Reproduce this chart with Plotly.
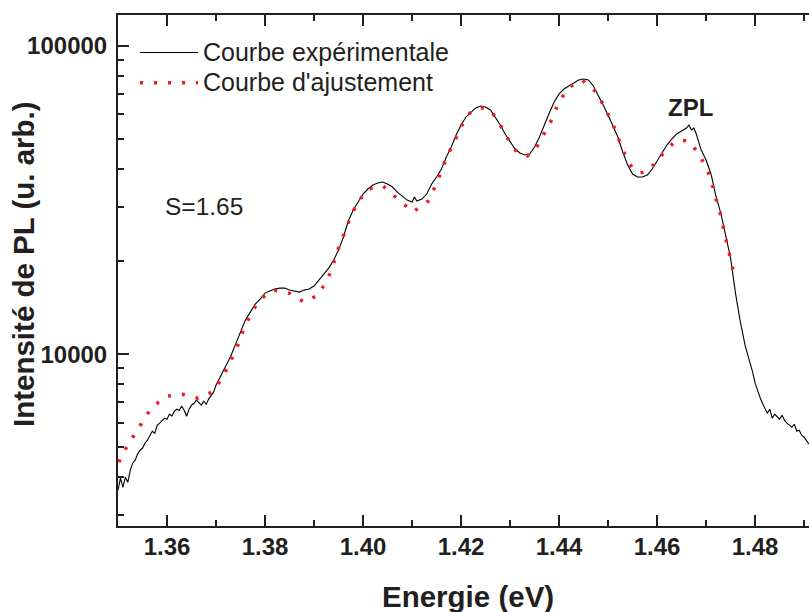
import plotly.graph_objects as go

# ---------------- data ----------------
exp_energy = [
    1.3500, 1.3505, 1.3510, 1.3515, 1.3520, 1.3525, 1.3530, 1.3535, 1.3540, 1.3545,
    1.3550, 1.3555, 1.3560, 1.3565, 1.3570, 1.3575, 1.3580, 1.3585, 1.3590, 1.3595,
    1.3600, 1.3605, 1.3610, 1.3615, 1.3620, 1.3625, 1.3630, 1.3635, 1.3640, 1.3645,
    1.3650, 1.3655, 1.3660, 1.3665, 1.3670, 1.3675, 1.3680, 1.3685, 1.3690, 1.3695,
    1.3700, 1.3705, 1.3710, 1.3715, 1.3720,
    1.373, 1.374, 1.375, 1.376, 1.377, 1.378, 1.379, 1.380, 1.381, 1.382,
    1.383, 1.384, 1.385, 1.386, 1.387, 1.388, 1.389, 1.390, 1.391, 1.392,
    1.393, 1.394, 1.395, 1.396, 1.397, 1.398, 1.399, 1.400, 1.401, 1.402,
    1.403, 1.404, 1.405, 1.406, 1.407, 1.408, 1.409, 1.410, 1.4105, 1.411,
    1.412, 1.413, 1.414, 1.415, 1.416, 1.417, 1.418, 1.419, 1.420, 1.421,
    1.422, 1.423, 1.424, 1.425, 1.426, 1.427, 1.428, 1.429, 1.430, 1.431,
    1.432, 1.433, 1.434, 1.435, 1.436, 1.437, 1.438, 1.439, 1.440, 1.441,
    1.442, 1.443, 1.444, 1.445, 1.446, 1.447, 1.448, 1.449, 1.450, 1.451,
    1.452, 1.453, 1.454, 1.455, 1.456, 1.457, 1.458, 1.459, 1.460, 1.461,
    1.462, 1.463, 1.464, 1.465, 1.466, 1.4665, 1.467, 1.4675, 1.468, 1.469,
    1.470, 1.471, 1.472, 1.473, 1.474, 1.475, 1.476, 1.477, 1.478,
    1.4790, 1.4795, 1.4800, 1.4805, 1.4810, 1.4815, 1.4820, 1.4825, 1.4830, 1.4835,
    1.4840, 1.4845, 1.4850, 1.4855, 1.4860, 1.4865, 1.4870, 1.4875, 1.4880, 1.4885,
    1.4890, 1.4895, 1.4900, 1.4905, 1.4910,
]
exp_intensity = [
    3620, 3960, 3700, 3990, 3840, 4200, 4430, 4530, 4740, 4880,
    4950, 5140, 5260, 5420, 5620, 5540, 5880, 5970, 6100, 6200,
    6150, 6390, 6290, 6530, 6630, 6580, 6780, 6580, 6290, 6630,
    6830, 6930, 7090, 6930, 6830, 7040, 6880, 7150, 7310, 7530,
    7930, 8230, 8550, 8870, 9140,
    9850, 10780, 11790, 12900, 13690, 14530, 15090, 15780, 16020, 16260,
    16380, 16380, 16140, 16020, 15900, 16140, 16260, 16630, 17390, 18190,
    19020, 20190, 21760, 23990, 27030, 29350, 31150, 33080, 34340, 35380,
    35910, 36180, 35650, 34850, 33570, 32580, 31620, 31150, 32340, 31390,
    31860, 33080, 35650, 37560, 39870, 43620, 47000, 51420, 55410, 58820,
    61060, 62920, 63870, 63400, 61990, 58820, 55410, 51810, 48790, 46300,
    44940, 44260, 44610, 47000, 50650, 55830, 60610, 65790, 69870, 72500,
    74150, 75830, 77550, 78130, 77550, 74150, 69340, 64350, 59710, 55000,
    50650, 45270, 41090, 38420, 37560, 37560, 38120, 39870, 42340, 45270,
    47700, 49900, 51810, 52980, 54180, 55410, 53380, 54180, 51810, 45950,
    42660, 38420, 32580, 28700, 24530, 20500, 15780, 12700, 10620,
    9420, 8740, 8050, 7580, 7250, 6930, 6680, 6430, 6630, 6200,
    6390, 6245, 6150, 6340, 6105, 5970, 5880, 5790, 5925, 5620,
    5665, 5460, 5376, 5220, 5100,
]

fit_energy = [
    1.3502, 1.3510, 1.3529, 1.3549, 1.3569, 1.3600, 1.3631, 1.3663, 1.3692, 1.3714,
    1.3729, 1.3743, 1.3755, 1.3769, 1.3788, 1.3816, 1.3849, 1.3880, 1.3908, 1.3927,
    1.3939, 1.3947, 1.3973, 1.3988, 1.4010, 1.4041, 1.4071, 1.4102, 1.4133, 1.4147,
    1.4159, 1.4171, 1.4188, 1.4202, 1.4218, 1.4235, 1.4251, 1.4267, 1.4280, 1.4294,
    1.4306, 1.4320, 1.4335, 1.4351, 1.4386, 1.4398, 1.4418, 1.4447, 1.4478, 1.4492,
    1.4508, 1.4520, 1.4533, 1.4549, 1.4565, 1.4582, 1.4608, 1.4635, 1.4651, 1.4667,
    1.4688, 1.4704, 1.4714, 1.4722, 1.4731, 1.4737, 1.4745, 1.4753, 1.4759,
]
fit_intensity = [
    4460, 4770, 5340, 6010, 6730, 7310, 7410, 7200, 7530, 8420,
    9490, 10540, 11880, 13290, 14970, 16140, 15780, 14750, 15550, 17390,
    19450, 21440, 27430, 30920, 34340, 35120, 31860, 28920, 31390, 34850,
    38990, 43620, 49530, 55410, 60610, 62920, 62920, 59710, 55410, 50650,
    46650, 44610, 43930, 45950, 57960, 64840, 73050, 77550, 70390, 63400,
    56670, 50650, 44940, 40180, 38700, 39280, 43930, 48790, 49530, 48790,
    43930, 38990, 34850, 31150, 27860, 24900, 22090, 19750, 17660,
]

x_major = [1.36, 1.38, 1.40, 1.42, 1.44, 1.46, 1.48]
x_minor = [1.35, 1.37, 1.39, 1.41, 1.43, 1.45, 1.47, 1.49]
y_major = [10000, 100000]
y_major_text = ["10000", "100000"]
y_minor = [3000, 4000, 5000, 6000, 7000, 8000, 9000,
           20000, 30000, 40000, 50000, 60000, 70000, 80000, 90000]

series_names = ["Courbe expérimentale", "Courbe d'ajustement"]

# ---------------- style ----------------
INK = "#231f20"
RED = "#ee1c25"
FONT = "Liberation Sans, Arial, sans-serif"

fig = go.Figure()
fig.add_trace(go.Scatter(
    x=exp_energy, y=exp_intensity, mode="lines",
    name='<span style="font-size:25px">' + series_names[0] + "</span>",
    line=dict(color="#000000", width=1.1),
))
fig.add_trace(go.Scatter(
    x=fit_energy, y=fit_intensity, mode="lines",
    name='<span style="font-size:25px">' + series_names[1] + "</span>",
    line=dict(color=RED, width=3.5, dash="3px,11px"),
))

axis_common = dict(
    showgrid=False, zeroline=False, showline=True, linecolor=INK, linewidth=2,
    ticks="inside", ticklen=11, tickwidth=2, tickcolor=INK,
    tickfont=dict(family=FONT, size=24, color=INK, weight="bold"),
)

fig.update_layout(
    width=809, height=612,
    margin=dict(l=118, r=0, t=15, b=86),
    paper_bgcolor="white", plot_bgcolor="white",
    font=dict(family=FONT, color=INK),
    xaxis=dict(
        range=[1.35, 1.491], tickmode="array", tickvals=x_major,
        ticktext=[f"{v:.2f}" for v in x_major], mirror="ticks",
        ticklabelstandoff=-2,
        minor=dict(tickmode="array", tickvals=x_minor, ticks="inside",
                   ticklen=6, tickwidth=2, tickcolor=INK),
        **axis_common,
    ),
    yaxis=dict(
        type="log", range=[3.4425, 5.1004], tickmode="array",
        tickvals=y_major, ticktext=y_major_text, mirror=False,
        ticklabelstandoff=4,
        minor=dict(tickmode="array", tickvals=y_minor, ticks="inside",
                   ticklen=6, tickwidth=2, tickcolor=INK),
        **axis_common,
    ),
    legend=dict(
        x=0.0246, y=0.966, xanchor="left", yanchor="top",
        bgcolor="rgba(0,0,0,0)", borderwidth=0,
        font=dict(family=FONT, size=21, color=INK),
        itemwidth=58, tracegroupgap=0,
    ),
    showlegend=True,
)

fig.add_annotation(text="Energie (eV)", xref="paper", yref="paper",
                   x=0.5065, y=-0.137, xanchor="center", yanchor="middle",
                   showarrow=False,
                   font=dict(family=FONT, size=29.5, color=INK, weight="bold"))
fig.add_annotation(text="Intensité de PL (u. arb.)", xref="paper", yref="paper",
                   x=-0.1375, y=0.5127, xanchor="center", yanchor="middle",
                   textangle=-90, showarrow=False,
                   font=dict(family=FONT, size=29.5, color=INK, weight="bold"))
fig.add_annotation(text="S=1.65", xref="paper", yref="paper",
                   x=0.1245, y=0.6243, xanchor="center", yanchor="middle",
                   showarrow=False,
                   font=dict(family=FONT, size=24.5, color=INK))
fig.add_annotation(text="ZPL", xref="paper", yref="paper",
                   x=0.8285, y=0.819, xanchor="center", yanchor="middle",
                   showarrow=False,
                   font=dict(family=FONT, size=24, color=INK, weight="bold"))

# remove the browser's default 8px body margin so the figure fills the window
fig.write_html("out.html",
               config={"displayModeBar": False},
               post_script="document.body.style.margin='0';"
                           "document.body.style.overflow='hidden';")
